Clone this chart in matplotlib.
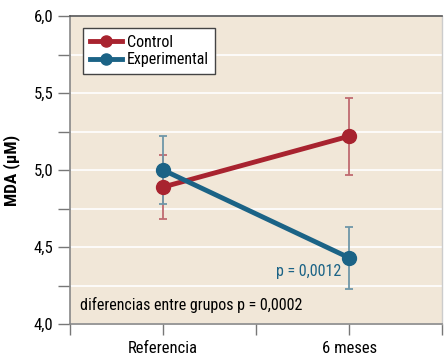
import matplotlib
matplotlib.use("Agg")
import matplotlib.pyplot as plt
from matplotlib.ticker import FixedLocator, FuncFormatter
import logging
logging.getLogger('matplotlib.font_manager').setLevel(logging.ERROR)

plt.rcParams['font.family'] = ['Roboto Condensed', 'Archivo Narrow', 'PT Sans Narrow',
                               'Liberation Sans Narrow', 'DejaVu Sans']

categories = ["Referencia", "6 meses"]
control = [4.89, 5.22]
control_err = [0.21, 0.25]
experimental = [5.00, 4.43]
experimental_err = [0.22, 0.20]
series_names = ["Control", "Experimental"]
y_label = "MDA (μM)"
note_groups = "diferencias entre grupos p = 0,0002"
note_exp = "p = 0,0012"

red = "#a8232f"
teal = "#1b6386"
bg = "#f1e7d8"

fig = plt.figure(figsize=(4.44, 3.58), dpi=100)
ax = fig.add_axes([0.158, 0.095, 0.838, 0.86])
ax.set_facecolor(bg)

x = list(range(len(categories)))
ax.errorbar(x, control, yerr=control_err, fmt='none', ecolor="#c06a70",
            elinewidth=1.3, capsize=3, capthick=1.3, zorder=2)
ax.errorbar(x, experimental, yerr=experimental_err, fmt='none', ecolor="#6f97a8",
            elinewidth=1.3, capsize=3, capthick=1.3, zorder=2)
ax.plot(x, control, color=red, lw=3.5, marker='o', ms=10, label=series_names[0], zorder=3)
ax.plot(x, experimental, color=teal, lw=3.5, marker='o', ms=10, label=series_names[1], zorder=4)

ax.set_xlim(-0.5, 1.5)
ax.set_ylim(4.0, 6.0)
ax.yaxis.set_major_locator(FixedLocator([4.0, 4.5, 5.0, 5.5, 6.0]))
ax.yaxis.set_minor_locator(FixedLocator([4.25, 4.75, 5.25, 5.75]))
ax.yaxis.set_major_formatter(FuncFormatter(lambda v, p: f"{v:.1f}".replace('.', ',')))
ax.xaxis.set_major_locator(FixedLocator([0, 1]))
ax.xaxis.set_minor_locator(FixedLocator([-0.5, 0.5, 1.5]))
ax.set_xticklabels(categories)

ax.grid(True, axis='y', which='both', color='white', lw=1.2, zorder=0)
ax.set_axisbelow(True)

ax.tick_params(axis='y', which='both', direction='out', length=9, width=1, color='#777777',
               labelsize=12, pad=3)
ax.tick_params(axis='x', which='both', direction='out', length=8, width=1, color='#777777',
               labelsize=12, pad=4)

for s in ['left', 'bottom']:
    ax.spines[s].set_color('#888888')
    ax.spines[s].set_linewidth(1.2)
ax.spines['top'].set_color('#555555')
ax.spines['top'].set_linewidth(1.2)
ax.spines['right'].set_color('#cccccc')
ax.spines['right'].set_linewidth(1.0)

ax.set_ylabel(y_label, fontsize=12.5, fontweight='bold', labelpad=10)

leg = ax.legend(loc='upper left', bbox_to_anchor=(0.035, 0.96), fontsize=11.5, frameon=True,
                fancybox=False, edgecolor='#444444', framealpha=1, borderpad=0.4,
                handlelength=2.0, handletextpad=0.35, labelspacing=0.15, borderaxespad=0,
                markerscale=0.8)
leg.get_frame().set_linewidth(1.0)

ax.text(0.027, 0.035, note_groups, transform=ax.transAxes, fontsize=11.5, ha='left', va='bottom')
ax.text(0.955, 4.43 - 0.04, note_exp, color=teal, fontsize=11.5, ha='right', va='top')

fig.savefig("out.png", dpi=100)
